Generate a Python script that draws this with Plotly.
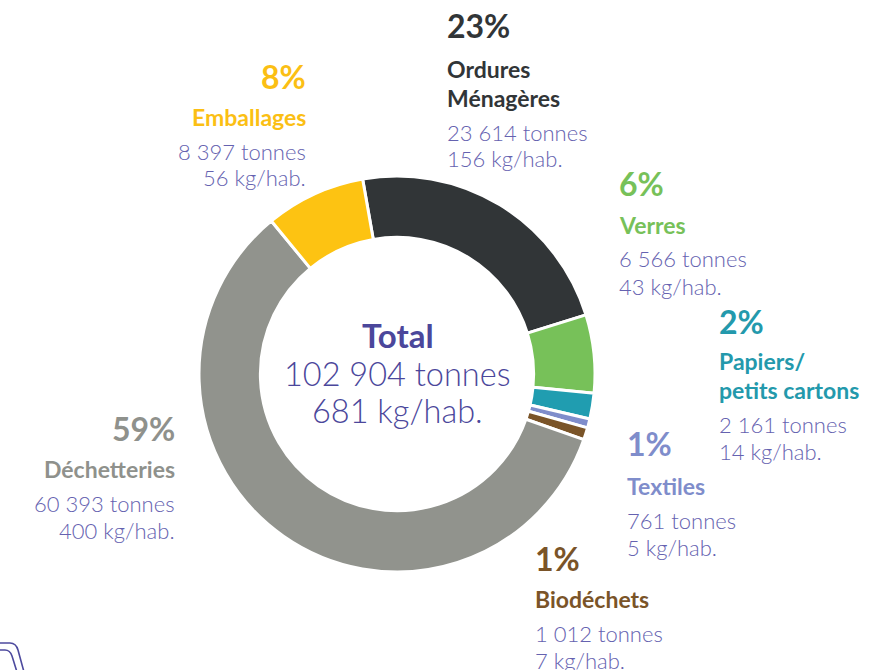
import plotly.graph_objects as go

W, H = 880, 670

categories = ["Ordures Ménagères", "Verres", "Papiers/ petits cartons", "Textiles",
              "Biodéchets", "Déchetteries", "Emballages"]
tonnes = [23614, 6566, 2161, 761, 1012, 60393, 8397]
kg_hab = [156, 43, 14, 5, 7, 400, 56]
pct_labels = ["23%", "6%", "2%", "1%", "1%", "59%", "8%"]
name_lines = [["Ordures", "Ménagères"], ["Verres"], ["Papiers/", "petits cartons"],
              ["Textiles"], ["Biodéchets"], ["Déchetteries"], ["Emballages"]]
tonnes_labels = ["23 614 tonnes", "6 566 tonnes", "2 161 tonnes", "761 tonnes",
                 "1 012 tonnes", "60 393 tonnes", "8 397 tonnes"]
kg_labels = ["156 kg/hab.", "43 kg/hab.", "14 kg/hab.", "5 kg/hab.",
             "7 kg/hab.", "400 kg/hab.", "56 kg/hab."]
total_labels = ["Total", "102 904 tonnes", "681 kg/hab."]

colors = ["#313537", "#77C159", "#209DB0", "#7F8DCB", "#7A5428", "#91938D", "#FDC312"]
text_colors = ["#313537", "#77C159", "#2399AC", "#7F8DCB", "#7A5428", "#8F918C", "#FBBF14"]
sub_color = "#6562B0"
center_color = "#4B479B"

# layout: (x px, anchor, y of percent line, y of first name line)
blocks = [
    (448, "left", 27, 69),
    (620, "left", 185, 225),
    (720, "left", 322, 361),
    (628, "left", 444, 486),
    (536, "left", 559, 599),
    (174, "right", 429, 469),
    (305, "right", 77, 117),
]

cx, cy, R = 397, 374, 198
fig = go.Figure(go.Pie(
    labels=categories, values=tonnes, sort=False, direction="clockwise",
    rotation=-10, hole=0.69,
    marker=dict(colors=colors, line=dict(color="white", width=3)),
    textinfo="none", hoverinfo="label+value+percent", showlegend=False,
    domain=dict(x=[(cx - R) / W, (cx + R) / W], y=[(H - cy - R) / H, (H - cy + R) / H]),
))

FONT = "Lato"
ann = []

def add(text, x, y, size, color, weight, anchor):
    pad = {"left": -3, "right": 3, "center": 0}[anchor]
    ann.append(dict(text=text, x=(x + pad) / W, y=1 - y / H, xref="paper", yref="paper",
                    xanchor=anchor, yanchor="middle", showarrow=False,
                    font=dict(family=FONT, size=size, color=color, weight=weight)))

for i, (x, anc, yp, yn) in enumerate(blocks):
    add(pct_labels[i], x, yp - 1, 32, text_colors[i], 700, anc)
    y = yn
    for line in name_lines[i]:
        add(line, x, y, 23, text_colors[i], 700, anc)
        y += 29
    y += 5
    add(tonnes_labels[i], x, y, 22, sub_color, 300, anc)
    add(kg_labels[i], x, y + 27, 22, sub_color, 300, anc)

add(total_labels[0], cx + 1, 335, 33, center_color, 700, "center")
add(total_labels[1], cx, 373, 32.5, center_color, 300, "center")
add(total_labels[2], cx, 411, 32.5, center_color, 300, "center")

def p(x, y):
    return f"{x / W:.5f},{1 - y / H:.5f}"

shapes = [
    dict(type="path", xref="paper", yref="paper",
         path=f"M {p(0, 643)} L {p(10, 643)} Q {p(16, 643)} {p(18, 650)} L {p(24, 672)}",
         line=dict(color="#4D4A9E", width=1.6)),
    dict(type="path", xref="paper", yref="paper",
         path=f"M {p(0, 650)} L {p(5, 650)} Q {p(10, 650)} {p(12, 656)} L {p(17, 672)}",
         line=dict(color="#4D4A9E", width=1.6)),
]

fig.update_layout(width=W, height=H, margin=dict(l=0, r=0, t=0, b=0),
                  paper_bgcolor="white", plot_bgcolor="white",
                  annotations=ann, shapes=shapes)
fig.write_html("out.html", config={"displayModeBar": False},
               post_script="document.body.style.margin='0';document.body.style.overflow='hidden';")
